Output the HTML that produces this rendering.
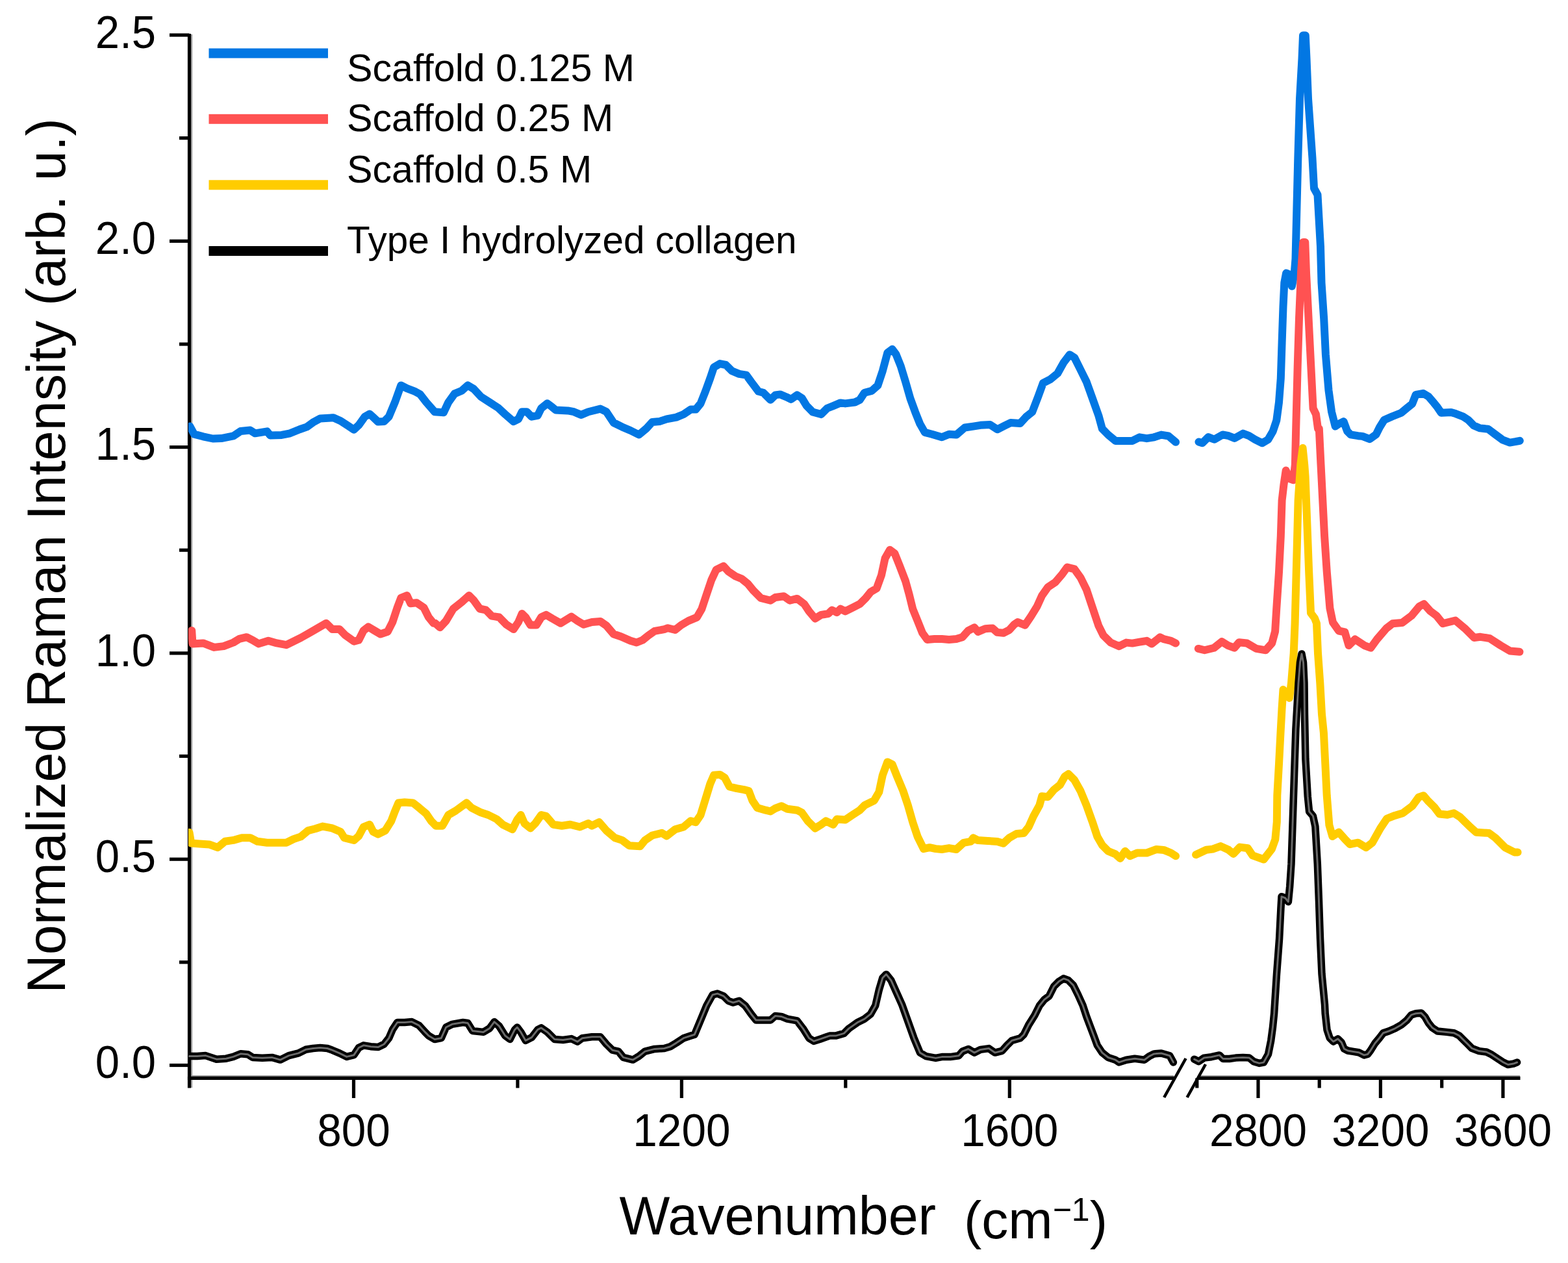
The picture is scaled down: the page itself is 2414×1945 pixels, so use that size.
<!DOCTYPE html>
<html><head><meta charset="utf-8"><title>Raman spectra</title>
<style>html,body{margin:0;padding:0;background:#fff;} svg{display:block;}
text{font-family:"Liberation Sans",Arial,sans-serif;fill:#000;}</style></head>
<body><svg width="2414" height="1945" viewBox="0 0 2414 1945">
<rect width="2414" height="1945" fill="#fff"/>
<g stroke="#9a9a9a" stroke-width="2" fill="none">
<path d="M295.2,53 V1675"/>
<path d="M294,1657 H1807"/><path d="M1846,1657 H2340"/>
</g>
<g stroke="#000" stroke-width="5.2" fill="none" stroke-linecap="butt">
<path d="M291.5,52 V1675.5"/>
<path d="M288.9,1660.4 H1808"/>
<path d="M1845,1660.4 H2340.5"/>
<path d="M261,1640.5 H291.5"/>
<path d="M261,1323.2 H291.5"/>
<path d="M261,1005.9 H291.5"/>
<path d="M261,688.6 H291.5"/>
<path d="M261,371.3 H291.5"/>
<path d="M261,54.0 H291.5"/>
<path d="M276,1481.8 H291.5"/>
<path d="M276,1164.5 H291.5"/>
<path d="M276,847.2 H291.5"/>
<path d="M276,530.0 H291.5"/>
<path d="M276,212.6 H291.5"/>
<path d="M544.5,1660.4 V1691"/>
<path d="M1049.4,1660.4 V1691"/>
<path d="M1554.3,1660.4 V1691"/>
<path d="M796.9,1660.4 V1675.5"/>
<path d="M1301.8,1660.4 V1675.5"/>
<path d="M1937.0,1660.4 V1691"/>
<path d="M2125.4,1660.4 V1691"/>
<path d="M2313.9,1660.4 V1691"/>
<path d="M1842.8,1660.4 V1675.5"/>
<path d="M2031.2,1660.4 V1675.5"/>
<path d="M2219.7,1660.4 V1675.5"/>
</g>
<g stroke="#000" stroke-width="4.6" stroke-linecap="butt">
<path d="M1792.2,1690 L1825.6,1630"/>
<path d="M1827.6,1690 L1856,1639"/>
</g>
<defs><clipPath id="pc"><rect x="290" y="0" width="2124" height="1656"/></clipPath></defs>
<g clip-path="url(#pc)">
<g fill="none" stroke="#0277E3" stroke-width="12" stroke-linejoin="round" stroke-linecap="round">
<path d="M292.4,656.5 L298.9,668.6 L312.8,672.3 L327.7,675.5 L340.7,675.1 L359.2,671.4 L370.4,663.9 L385.2,662.6 L392.7,667.3 L411.2,664.3 L415.9,670.4 L433.5,669.9 L446.5,667.3 L461.3,661.2 L472.5,657.4 L481.8,650.6 L492.9,644.5 L513.3,643.2 L524.4,648.2 L535.6,655.6 L544.9,661.7 L552.3,654.7 L561.6,641.7 L569.0,637.6 L574.6,642.6 L582.0,649.5 L591.3,649.1 L598.7,641.7 L608.0,619.4 L617.3,593.4 L626.5,598.1 L637.7,602.3 L646.9,607.3 L656.2,619.4 L669.2,634.2 L683.0,635.2 L690.4,619.4 L699.7,606.4 L710.8,601.8 L720.1,593.4 L729.4,599.0 L740.5,611.0 L753.5,619.4 L766.5,627.7 L777.7,638.0 L790.6,649.1 L798.1,645.4 L803.6,634.2 L811.1,634.2 L818.5,641.7 L827.8,639.8 L833.3,628.7 L842.6,621.3 L850.0,626.8 L855.6,631.5 L874.2,632.4 L883.5,634.2 L894.6,638.9 L905.7,634.2 L924.3,629.6 L933.6,634.2 L944.7,651.0 L957.7,657.4 L970.7,663.0 L983.7,669.5 L994.8,660.2 L1004.1,650.0 L1015.2,649.1 L1026.4,645.4 L1041.2,642.6 L1052.4,638.0 L1063.5,630.5 L1071.1,630.6 L1078.6,621.4 L1086.0,602.8 L1093.4,582.4 L1099.0,565.7 L1108.3,560.1 L1117.5,562.0 L1126.8,571.3 L1138.0,575.9 L1149.1,577.7 L1156.5,588.0 L1167.7,602.8 L1175.1,604.7 L1186.2,615.8 L1193.6,608.4 L1201.1,607.4 L1210.3,611.2 L1217.8,614.9 L1227.1,608.4 L1234.5,613.0 L1241.9,625.1 L1251.2,634.4 L1264.2,638.1 L1273.5,628.8 L1282.7,625.1 L1293.9,620.4 L1301.3,621.4 L1316.1,619.5 L1323.6,615.8 L1331.0,604.7 L1342.1,601.9 L1351.4,593.5 L1358.8,571.3 L1366.3,543.4 L1373.7,537.8 L1379.3,545.3 L1386.7,563.8 L1394.1,588.0 L1401.5,613.9 L1409.0,634.4 L1416.4,652.9 L1423.8,665.9 L1434.9,668.7 L1450.0,673.3 L1461.1,668.7 L1472.3,669.6 L1485.3,658.5 L1498.3,656.6 L1509.4,654.8 L1524.2,653.9 L1535.4,661.3 L1546.5,655.7 L1555.8,651.1 L1570.6,652.0 L1579.9,641.8 L1589.2,634.4 L1598.5,610.2 L1605.9,589.8 L1617.1,584.2 L1628.2,575.0 L1637.5,558.3 L1646.8,546.2 L1654.2,550.8 L1663.5,569.4 L1672.7,588.0 L1682.0,613.9 L1691.3,639.9 L1696.9,660.3 L1706.1,669.6 L1717.3,678.9 L1728.4,678.9 L1743.3,678.9 L1754.4,673.3 L1765.5,675.2 L1776.7,673.3 L1787.8,669.6 L1799.0,671.5 L1810.1,680.8"/>
<path d="M1845.5,680.5 L1851.1,682.3 L1860.3,673.1 L1869.5,676.8 L1882.4,669.4 L1891.6,671.2 L1900.8,674.9 L1913.7,667.6 L1922.9,671.2 L1932.2,676.8 L1943.2,682.3 L1952.4,676.8 L1959.8,663.9 L1965.3,647.3 L1969.0,619.6 L1971.8,582.8 L1973.6,527.5 L1975.5,472.2 L1977.3,435.3 L1980.1,420.6 L1986.5,423.3 L1988.9,440.8 L1992.6,422.4 L1994.5,398.4 L1998.3,244.0 L2001.0,152.0 L2004.5,90.0 L2006.0,54.5 L2009.8,54.5 L2011.5,90.0 L2014.0,152.0 L2020.5,244.0 L2023.0,290.0 L2028.5,300.0 L2033.0,380.0 L2034.5,435.3 L2038.2,490.6 L2040.9,545.9 L2045.5,601.2 L2050.1,634.4 L2055.7,656.5 L2061.2,652.8 L2068.6,649.1 L2074.1,663.9 L2079.6,669.4 L2090.7,671.2 L2097.6,671.9 L2108.7,676.1 L2118.5,669.1 L2124.0,658.0 L2131.0,646.8 L2143.5,641.3 L2157.4,635.7 L2165.8,628.7 L2174.2,621.8 L2179.7,607.8 L2190.9,605.8 L2199.2,610.6 L2207.6,620.4 L2213.1,627.3 L2218.7,635.7 L2234.0,635.0 L2241.0,637.1 L2252.1,641.3 L2260.5,646.8 L2268.8,655.2 L2278.6,659.4 L2291.1,660.7 L2302.2,669.1 L2313.4,677.4 L2324.5,681.6 L2332.9,680.2 L2339.8,678.8"/>
</g>
<g fill="none" stroke="#FF5252" stroke-width="12" stroke-linejoin="round" stroke-linecap="round">
<path d="M295.2,971.0 L296.5,991.4 L312.8,990.4 L329.5,996.9 L344.4,995.1 L359.2,989.5 L368.5,983.9 L379.7,981.2 L388.9,985.8 L398.2,991.4 L413.1,986.7 L426.1,990.4 L440.9,993.2 L452.1,987.7 L463.2,982.1 L478.0,973.7 L489.2,967.2 L502.2,959.8 L511.5,969.1 L522.6,969.1 L531.9,978.4 L544.9,987.7 L552.3,985.8 L559.7,971.0 L567.1,965.4 L576.4,971.0 L585.7,976.5 L596.8,972.8 L604.3,958.0 L611.7,935.7 L617.3,920.8 L626.5,917.1 L632.1,929.2 L641.4,928.3 L652.5,935.7 L659.9,950.5 L667.4,959.8 L670.0,959.8 L677.4,966.3 L686.7,956.1 L697.8,937.5 L710.8,927.3 L722.0,917.1 L729.4,924.5 L738.7,937.5 L748.0,939.4 L757.2,948.7 L768.4,950.5 L779.5,961.7 L790.6,969.1 L798.1,958.0 L803.6,945.0 L809.2,950.5 L816.6,962.6 L825.9,962.6 L833.3,950.5 L840.8,946.8 L850.0,952.4 L863.0,959.8 L872.3,954.2 L879.7,949.6 L889.0,956.1 L898.3,961.7 L911.3,958.0 L924.3,957.0 L933.6,963.5 L944.7,976.5 L955.8,980.2 L970.7,986.7 L980.0,989.5 L989.3,985.8 L998.5,978.4 L1007.8,971.9 L1022.7,969.1 L1028.2,967.2 L1039.4,970.0 L1048.7,962.6 L1059.8,956.1 L1073.0,950.6 L1080.4,937.7 L1087.8,915.4 L1095.3,893.1 L1102.7,877.3 L1113.8,871.8 L1121.3,880.1 L1132.4,887.5 L1141.7,891.3 L1151.0,898.7 L1160.2,909.8 L1171.4,921.0 L1186.2,924.7 L1193.6,920.0 L1206.6,918.2 L1215.9,924.7 L1227.1,921.9 L1238.2,930.2 L1245.6,941.4 L1254.9,952.5 L1264.2,946.9 L1275.3,945.1 L1280.9,939.5 L1288.3,943.2 L1293.9,937.7 L1301.3,941.4 L1312.4,935.8 L1323.6,930.2 L1332.9,921.0 L1340.3,911.7 L1349.6,906.1 L1357.0,885.7 L1362.6,859.7 L1370.0,846.7 L1377.4,852.3 L1384.8,870.8 L1394.1,895.0 L1399.7,915.4 L1405.2,937.7 L1412.7,956.2 L1420.1,974.8 L1427.5,985.0 L1438.7,984.1 L1450.0,984.1 L1461.1,985.0 L1472.3,984.1 L1481.6,981.3 L1490.8,971.1 L1500.1,966.4 L1505.7,972.9 L1516.8,968.3 L1528.0,967.4 L1535.4,973.9 L1544.7,974.8 L1553.9,970.1 L1561.4,961.8 L1566.9,958.1 L1578.1,962.7 L1587.4,948.8 L1596.6,933.9 L1604.1,917.2 L1613.3,904.2 L1624.5,896.8 L1635.6,883.8 L1643.0,873.6 L1654.2,876.4 L1663.5,889.4 L1672.7,908.0 L1682.0,935.8 L1691.3,963.6 L1698.7,978.5 L1709.9,989.6 L1722.9,995.2 L1734.0,989.6 L1743.3,990.6 L1754.4,988.7 L1765.5,986.8 L1773.0,991.5 L1786.0,981.3 L1791.5,984.1 L1802.7,986.8 L1810.1,990.6"/>
<path d="M1844.8,998.9 L1854.5,1001.3 L1869.0,997.7 L1881.0,988.1 L1890.7,994.1 L1900.3,997.7 L1907.6,989.3 L1919.6,990.5 L1934.1,998.9 L1948.6,1001.3 L1958.2,990.5 L1963.1,972.4 L1965.3,936.5 L1969.0,881.2 L1971.8,825.9 L1973.6,770.6 L1976.4,746.6 L1979.7,724.5 L1985.6,737.4 L1991.2,739.3 L1993.9,715.3 L1995.2,660.0 L1997.7,564.0 L2000.0,490.6 L2003.0,420.0 L2006.3,373.0 L2009.3,373.0 L2011.0,420.0 L2014.6,490.6 L2018.3,564.0 L2021.6,629.0 L2026.0,638.0 L2029.0,660.0 L2030.8,660.0 L2033.5,715.3 L2036.3,770.6 L2039.1,825.9 L2042.8,881.2 L2047.4,936.5 L2052.0,958.6 L2061.2,971.5 L2070.4,973.4 L2076.5,994.1 L2086.1,984.5 L2100.6,994.1 L2110.3,997.7 L2119.9,984.5 L2134.4,967.6 L2144.0,960.3 L2158.5,959.1 L2173.0,948.3 L2185.1,933.8 L2192.3,930.2 L2201.9,941.0 L2211.6,948.3 L2221.3,960.3 L2240.6,955.5 L2255.0,967.6 L2269.5,982.0 L2279.2,980.8 L2293.6,983.2 L2310.5,994.1 L2325.0,1002.6 L2339.5,1003.8"/>
</g>
<g fill="none" stroke="#FFCC00" stroke-width="12" stroke-linejoin="round" stroke-linecap="round">
<path d="M291.5,1281.9 L294.3,1298.6 L307.3,1299.5 L322.1,1300.4 L335.1,1305.1 L346.3,1295.8 L359.2,1293.9 L372.2,1290.2 L385.2,1290.2 L396.4,1295.8 L411.2,1297.7 L426.1,1297.7 L440.9,1297.7 L452.1,1292.1 L463.2,1288.4 L474.3,1279.1 L485.5,1276.3 L496.6,1272.6 L511.5,1275.4 L524.4,1281.0 L530.0,1290.2 L544.9,1293.9 L552.3,1287.4 L559.7,1273.5 L569.0,1269.8 L574.6,1281.0 L582.0,1284.7 L593.1,1279.1 L602.4,1264.2 L608.0,1249.4 L613.5,1236.4 L622.8,1235.5 L635.8,1236.4 L645.1,1243.8 L656.2,1253.1 L663.7,1264.2 L671.1,1271.7 L681.1,1271.7 L690.4,1255.0 L701.6,1248.5 L718.3,1236.4 L725.7,1243.8 L740.5,1251.3 L751.7,1255.0 L764.7,1261.5 L773.9,1269.8 L788.8,1277.2 L796.2,1262.4 L801.8,1255.0 L807.4,1268.0 L816.6,1275.4 L824.1,1268.0 L833.3,1255.0 L840.8,1256.8 L851.9,1269.8 L864.9,1271.7 L877.9,1269.8 L892.7,1273.5 L905.7,1268.0 L911.3,1271.7 L922.4,1266.1 L933.6,1279.1 L946.6,1290.2 L957.7,1293.9 L968.8,1302.3 L985.5,1303.2 L993.0,1293.9 L1004.1,1286.5 L1019.0,1282.8 L1026.4,1287.4 L1039.4,1277.2 L1052.4,1273.5 L1063.5,1264.2 L1071.1,1266.2 L1078.6,1255.1 L1086.0,1231.0 L1093.4,1206.8 L1099.0,1193.8 L1108.3,1192.9 L1115.7,1197.5 L1123.1,1211.5 L1134.2,1214.2 L1145.4,1216.1 L1152.8,1218.0 L1158.4,1232.8 L1165.8,1243.9 L1178.8,1247.7 L1186.2,1249.5 L1193.6,1244.9 L1202.9,1241.2 L1212.2,1245.8 L1227.1,1247.7 L1234.5,1251.4 L1243.8,1264.4 L1254.9,1275.5 L1264.2,1269.9 L1271.6,1264.4 L1282.7,1269.9 L1288.3,1261.6 L1301.3,1262.5 L1312.4,1255.1 L1323.6,1247.7 L1331.0,1240.2 L1345.8,1232.8 L1353.3,1219.8 L1358.8,1193.8 L1366.3,1173.4 L1373.7,1177.1 L1381.1,1195.7 L1390.4,1218.0 L1397.8,1240.2 L1405.2,1266.2 L1412.7,1288.5 L1421.9,1307.1 L1431.2,1305.2 L1440.5,1307.1 L1450.0,1308.0 L1461.1,1306.1 L1472.3,1308.0 L1483.4,1297.8 L1494.5,1295.9 L1498.3,1290.3 L1505.7,1294.1 L1520.5,1295.0 L1535.4,1295.9 L1544.7,1298.7 L1553.9,1290.3 L1565.1,1283.9 L1576.2,1282.9 L1583.6,1273.6 L1591.1,1256.9 L1600.3,1240.2 L1604.1,1226.3 L1613.3,1227.2 L1622.6,1216.1 L1631.9,1208.7 L1639.3,1195.7 L1644.9,1192.0 L1654.2,1201.3 L1663.5,1218.0 L1672.7,1240.2 L1682.0,1266.2 L1689.4,1288.5 L1696.9,1301.5 L1706.1,1310.8 L1717.3,1315.4 L1724.7,1321.9 L1732.1,1310.8 L1739.6,1318.2 L1750.7,1313.5 L1765.5,1313.5 L1780.4,1308.0 L1791.5,1308.9 L1802.7,1313.5 L1810.1,1318.2"/>
<path d="M1841.1,1316.2 L1857.1,1308.8 L1866.9,1307.6 L1879.2,1303.1 L1891.5,1308.8 L1898.9,1314.9 L1908.7,1304.6 L1921.0,1306.3 L1928.4,1317.4 L1945.6,1323.5 L1957.9,1307.6 L1963.3,1292.8 L1965.8,1265.8 L1966.3,1224.8 L1969.0,1176.5 L1971.5,1128.3 L1973.5,1092.0 L1975.5,1062.0 L1985.0,1075.0 L1988.0,1052.0 L1991.7,1006.0 L1993.6,960.0 L1996.7,844.4 L1998.6,770.6 L2002.3,715.3 L2005.6,690.0 L2008.2,715.3 L2009.6,733.8 L2012.4,807.5 L2015.2,881.3 L2018.0,944.0 L2024.0,952.0 L2027.0,960.0 L2029.0,1006.0 L2032.3,1052.0 L2035.0,1100.0 L2037.9,1128.3 L2040.3,1176.5 L2042.7,1224.8 L2046.4,1270.7 L2051.3,1287.9 L2061.2,1281.7 L2071.0,1292.8 L2078.4,1300.2 L2090.7,1297.7 L2103.0,1305.1 L2112.8,1297.7 L2125.1,1275.6 L2135.0,1260.8 L2147.3,1255.9 L2159.6,1252.2 L2174.3,1241.2 L2184.2,1227.6 L2191.5,1225.2 L2198.9,1233.8 L2208.7,1243.6 L2216.1,1253.5 L2228.4,1254.7 L2238.3,1252.2 L2248.1,1258.4 L2262.9,1273.1 L2272.7,1281.7 L2292.4,1283.0 L2302.2,1290.3 L2317.0,1305.1 L2331.7,1312.5 L2336.6,1312.5"/>
</g>
<g fill="none" stroke="#000" stroke-width="11.5" stroke-linejoin="round" stroke-linecap="round">
<path d="M291.5,1626.5 L303.6,1626.5 L316.6,1625.6 L333.3,1631.2 L348.1,1630.2 L359.2,1627.4 L370.4,1622.8 L381.5,1623.7 L388.9,1628.4 L403.8,1629.3 L418.6,1628.4 L431.6,1632.1 L444.6,1625.6 L459.5,1621.9 L470.6,1616.3 L481.8,1614.5 L492.9,1613.5 L504.0,1614.5 L511.5,1617.2 L522.6,1621.9 L533.7,1627.4 L544.9,1624.7 L552.3,1613.5 L559.7,1609.8 L570.8,1611.7 L582.0,1612.6 L591.3,1608.0 L598.7,1598.7 L604.3,1585.7 L611.7,1574.5 L622.8,1574.5 L634.0,1573.6 L645.1,1579.2 L654.4,1589.4 L659.9,1595.0 L669.2,1600.5 L679.3,1598.7 L686.7,1582.0 L696.0,1577.3 L712.7,1574.5 L720.1,1575.5 L727.5,1587.5 L744.2,1589.4 L753.5,1583.8 L761.0,1573.6 L768.4,1580.1 L777.7,1595.0 L785.1,1600.5 L792.5,1585.7 L796.2,1582.0 L801.8,1589.4 L809.2,1602.4 L818.5,1597.7 L827.8,1585.7 L833.3,1582.9 L842.6,1589.4 L853.8,1600.5 L866.8,1601.5 L879.7,1599.6 L889.0,1604.2 L896.5,1598.7 L911.3,1596.8 L924.3,1596.8 L933.6,1608.0 L942.9,1617.2 L952.1,1619.1 L959.6,1628.4 L974.4,1632.1 L983.7,1626.5 L993.0,1619.1 L1007.8,1615.4 L1022.7,1614.5 L1031.9,1611.7 L1041.2,1606.1 L1052.4,1598.7 L1063.5,1595.0 L1069.3,1593.2 L1078.6,1571.0 L1087.8,1548.7 L1097.1,1532.0 L1104.5,1530.1 L1113.8,1533.8 L1121.3,1541.3 L1128.7,1544.0 L1138.0,1541.3 L1147.2,1548.7 L1156.5,1561.7 L1163.9,1571.0 L1175.1,1571.0 L1186.2,1571.0 L1193.6,1564.5 L1202.9,1565.4 L1212.2,1569.1 L1227.1,1571.9 L1236.3,1583.9 L1245.6,1598.8 L1253.0,1603.4 L1264.2,1599.7 L1277.2,1595.1 L1286.5,1595.1 L1299.4,1591.4 L1306.9,1583.9 L1319.9,1574.7 L1331.0,1569.1 L1340.3,1561.7 L1347.7,1548.7 L1353.3,1524.5 L1358.8,1506.0 L1364.4,1500.4 L1371.8,1509.7 L1379.3,1526.4 L1388.5,1546.8 L1397.8,1572.8 L1407.1,1598.8 L1416.4,1621.1 L1425.7,1626.6 L1440.5,1629.4 L1450.0,1627.6 L1463.0,1627.6 L1476.0,1625.7 L1481.6,1619.2 L1490.8,1615.5 L1500.1,1621.1 L1509.4,1616.4 L1522.4,1614.6 L1531.7,1621.1 L1542.8,1618.3 L1550.2,1609.9 L1557.7,1602.5 L1570.6,1598.8 L1576.2,1593.2 L1583.6,1578.4 L1592.9,1563.5 L1600.3,1548.7 L1607.8,1539.4 L1615.2,1533.8 L1622.6,1519.0 L1630.0,1511.6 L1637.5,1506.9 L1644.9,1509.7 L1652.3,1517.1 L1659.7,1532.0 L1667.2,1548.7 L1672.7,1565.4 L1678.3,1580.2 L1683.9,1595.1 L1689.4,1609.9 L1696.9,1621.1 L1706.1,1628.5 L1717.3,1632.2 L1722.9,1635.9 L1734.0,1632.2 L1747.0,1630.3 L1761.8,1632.2 L1769.3,1626.6 L1776.7,1622.9 L1787.8,1622.0 L1800.8,1625.7 L1806.4,1635.9"/><path d="M1838.6,1631.2 L1845.3,1634.7 L1853.7,1629.1 L1864.8,1627.7 L1877.3,1624.9 L1882.9,1630.5 L1892.6,1630.5 L1902.4,1629.1 L1913.5,1628.4 L1923.3,1629.1 L1930.2,1634.7 L1938.6,1637.4 L1945.5,1636.1 L1952.5,1623.5 L1956.7,1602.6 L1959.5,1581.8 L1961.6,1560.9 L1965.5,1500.0 L1969.6,1445.5 L1971.9,1399.4 L1973.0,1380.7 L1978.8,1383.0 L1983.4,1388.7 L1985.7,1365.0 L1988.0,1330.3 L1990.3,1261.2 L1992.6,1192.1 L1994.9,1123.0 L1999.0,1052.0 L2001.5,1020.0 L2004.0,1007.0 L2006.5,1020.0 L2008.0,1052.0 L2008.5,1100.0 L2009.9,1169.0 L2013.3,1226.7 L2015.6,1249.7 L2021.4,1256.6 L2024.9,1272.7 L2028.3,1330.3 L2030.5,1387.9 L2032.5,1445.5 L2035.0,1500.0 L2039.5,1547.0 L2040.2,1560.9 L2043.0,1585.9 L2047.2,1598.5 L2052.7,1604.0 L2059.7,1599.9 L2065.3,1605.4 L2069.4,1615.2 L2075.0,1618.0 L2083.4,1619.4 L2091.7,1620.7 L2100.1,1624.9 L2105.6,1623.5 L2109.8,1618.0 L2116.8,1606.8 L2123.7,1598.5 L2129.6,1590.7 L2138.0,1588.0 L2147.7,1583.8 L2157.4,1578.2 L2165.8,1571.3 L2172.8,1562.9 L2179.7,1560.8 L2188.1,1560.1 L2193.6,1565.7 L2199.2,1575.4 L2204.8,1582.4 L2213.1,1588.0 L2227.1,1589.4 L2238.2,1590.7 L2246.5,1594.9 L2253.5,1601.9 L2259.1,1607.4 L2266.0,1614.4 L2277.2,1618.6 L2288.3,1620.0 L2296.7,1624.2 L2305.0,1629.7 L2313.4,1635.3 L2321.7,1639.5 L2330.1,1638.1 L2335.6,1636.0"/></g>
<g fill="none" stroke="#6a6a6a" stroke-width="3" stroke-linejoin="round" stroke-linecap="round">
<path d="M291.5,1626.5 L303.6,1626.5 L316.6,1625.6 L333.3,1631.2 L348.1,1630.2 L359.2,1627.4 L370.4,1622.8 L381.5,1623.7 L388.9,1628.4 L403.8,1629.3 L418.6,1628.4 L431.6,1632.1 L444.6,1625.6 L459.5,1621.9 L470.6,1616.3 L481.8,1614.5 L492.9,1613.5 L504.0,1614.5 L511.5,1617.2 L522.6,1621.9 L533.7,1627.4 L544.9,1624.7 L552.3,1613.5 L559.7,1609.8 L570.8,1611.7 L582.0,1612.6 L591.3,1608.0 L598.7,1598.7 L604.3,1585.7 L611.7,1574.5 L622.8,1574.5 L634.0,1573.6 L645.1,1579.2 L654.4,1589.4 L659.9,1595.0 L669.2,1600.5 L679.3,1598.7 L686.7,1582.0 L696.0,1577.3 L712.7,1574.5 L720.1,1575.5 L727.5,1587.5 L744.2,1589.4 L753.5,1583.8 L761.0,1573.6 L768.4,1580.1 L777.7,1595.0 L785.1,1600.5 L792.5,1585.7 L796.2,1582.0 L801.8,1589.4 L809.2,1602.4 L818.5,1597.7 L827.8,1585.7 L833.3,1582.9 L842.6,1589.4 L853.8,1600.5 L866.8,1601.5 L879.7,1599.6 L889.0,1604.2 L896.5,1598.7 L911.3,1596.8 L924.3,1596.8 L933.6,1608.0 L942.9,1617.2 L952.1,1619.1 L959.6,1628.4 L974.4,1632.1 L983.7,1626.5 L993.0,1619.1 L1007.8,1615.4 L1022.7,1614.5 L1031.9,1611.7 L1041.2,1606.1 L1052.4,1598.7 L1063.5,1595.0 L1069.3,1593.2 L1078.6,1571.0 L1087.8,1548.7 L1097.1,1532.0 L1104.5,1530.1 L1113.8,1533.8 L1121.3,1541.3 L1128.7,1544.0 L1138.0,1541.3 L1147.2,1548.7 L1156.5,1561.7 L1163.9,1571.0 L1175.1,1571.0 L1186.2,1571.0 L1193.6,1564.5 L1202.9,1565.4 L1212.2,1569.1 L1227.1,1571.9 L1236.3,1583.9 L1245.6,1598.8 L1253.0,1603.4 L1264.2,1599.7 L1277.2,1595.1 L1286.5,1595.1 L1299.4,1591.4 L1306.9,1583.9 L1319.9,1574.7 L1331.0,1569.1 L1340.3,1561.7 L1347.7,1548.7 L1353.3,1524.5 L1358.8,1506.0 L1364.4,1500.4 L1371.8,1509.7 L1379.3,1526.4 L1388.5,1546.8 L1397.8,1572.8 L1407.1,1598.8 L1416.4,1621.1 L1425.7,1626.6 L1440.5,1629.4 L1450.0,1627.6 L1463.0,1627.6 L1476.0,1625.7 L1481.6,1619.2 L1490.8,1615.5 L1500.1,1621.1 L1509.4,1616.4 L1522.4,1614.6 L1531.7,1621.1 L1542.8,1618.3 L1550.2,1609.9 L1557.7,1602.5 L1570.6,1598.8 L1576.2,1593.2 L1583.6,1578.4 L1592.9,1563.5 L1600.3,1548.7 L1607.8,1539.4 L1615.2,1533.8 L1622.6,1519.0 L1630.0,1511.6 L1637.5,1506.9 L1644.9,1509.7 L1652.3,1517.1 L1659.7,1532.0 L1667.2,1548.7 L1672.7,1565.4 L1678.3,1580.2 L1683.9,1595.1 L1689.4,1609.9 L1696.9,1621.1 L1706.1,1628.5 L1717.3,1632.2 L1722.9,1635.9 L1734.0,1632.2 L1747.0,1630.3 L1761.8,1632.2 L1769.3,1626.6 L1776.7,1622.9 L1787.8,1622.0 L1800.8,1625.7 L1806.4,1635.9"/><path d="M1838.6,1631.2 L1845.3,1634.7 L1853.7,1629.1 L1864.8,1627.7 L1877.3,1624.9 L1882.9,1630.5 L1892.6,1630.5 L1902.4,1629.1 L1913.5,1628.4 L1923.3,1629.1 L1930.2,1634.7 L1938.6,1637.4 L1945.5,1636.1 L1952.5,1623.5 L1956.7,1602.6 L1959.5,1581.8 L1961.6,1560.9 L1965.5,1500.0 L1969.6,1445.5 L1971.9,1399.4 L1973.0,1380.7 L1978.8,1383.0 L1983.4,1388.7 L1985.7,1365.0 L1988.0,1330.3 L1990.3,1261.2 L1992.6,1192.1 L1994.9,1123.0 L1999.0,1052.0 L2001.5,1020.0 L2004.0,1007.0 L2006.5,1020.0 L2008.0,1052.0 L2008.5,1100.0 L2009.9,1169.0 L2013.3,1226.7 L2015.6,1249.7 L2021.4,1256.6 L2024.9,1272.7 L2028.3,1330.3 L2030.5,1387.9 L2032.5,1445.5 L2035.0,1500.0 L2039.5,1547.0 L2040.2,1560.9 L2043.0,1585.9 L2047.2,1598.5 L2052.7,1604.0 L2059.7,1599.9 L2065.3,1605.4 L2069.4,1615.2 L2075.0,1618.0 L2083.4,1619.4 L2091.7,1620.7 L2100.1,1624.9 L2105.6,1623.5 L2109.8,1618.0 L2116.8,1606.8 L2123.7,1598.5 L2129.6,1590.7 L2138.0,1588.0 L2147.7,1583.8 L2157.4,1578.2 L2165.8,1571.3 L2172.8,1562.9 L2179.7,1560.8 L2188.1,1560.1 L2193.6,1565.7 L2199.2,1575.4 L2204.8,1582.4 L2213.1,1588.0 L2227.1,1589.4 L2238.2,1590.7 L2246.5,1594.9 L2253.5,1601.9 L2259.1,1607.4 L2266.0,1614.4 L2277.2,1618.6 L2288.3,1620.0 L2296.7,1624.2 L2305.0,1629.7 L2313.4,1635.3 L2321.7,1639.5 L2330.1,1638.1 L2335.6,1636.0"/></g>
</g>
<g font-size="67" text-anchor="end">
<text transform="translate(240,1660.3) scale(1,1.045)">0.0</text>
<text transform="translate(240,1343.0) scale(1,1.045)">0.5</text>
<text transform="translate(240,1025.7) scale(1,1.045)">1.0</text>
<text transform="translate(240,708.4) scale(1,1.045)">1.5</text>
<text transform="translate(240,391.1) scale(1,1.045)">2.0</text>
<text transform="translate(240,73.8) scale(1,1.045)">2.5</text>
</g>
<g font-size="67.5" text-anchor="middle">
<text transform="translate(544.5,1764.8) scale(1,1.055)">800</text>
<text transform="translate(1049.4,1764.8) scale(1,1.055)">1200</text>
<text transform="translate(1554.3,1764.8) scale(1,1.055)">1600</text>
<text transform="translate(1937.0,1764.8) scale(1,1.055)">2800</text>
<text transform="translate(2125.4,1764.8) scale(1,1.055)">3200</text>
<text transform="translate(2313.9,1764.8) scale(1,1.055)">3600</text>
</g>
<text font-size="82.5" transform="translate(100.4,1529.8) rotate(-90) scale(1,1.016)">Normalized Raman Intensity (arb. u.)</text>
<text font-size="82.5" x="953.5" y="1901">Wavenumber</text>
<text font-size="82" x="1484" y="1907">(cm<tspan font-size="50" dy="-27">−1</tspan><tspan dy="27">)</tspan></text>
<rect x="321.5" y="74.5" width="183.5" height="15" fill="#0277E3"/>
<text font-size="59.2" x="534" y="125">Scaffold 0.125 M</text>
<rect x="321.5" y="175.8" width="183.5" height="15" fill="#FF5252"/>
<text font-size="59.2" x="534" y="202.3">Scaffold 0.25 M</text>
<rect x="321.5" y="277.3" width="183.5" height="15" fill="#FFCC00"/>
<text font-size="59.2" x="534" y="280.9">Scaffold 0.5 M</text>
<rect x="321.5" y="379.0" width="183.5" height="15" fill="#000"/>
<text font-size="58.5" x="534" y="389.8">Type I hydrolyzed collagen</text>
</svg></body></html>
